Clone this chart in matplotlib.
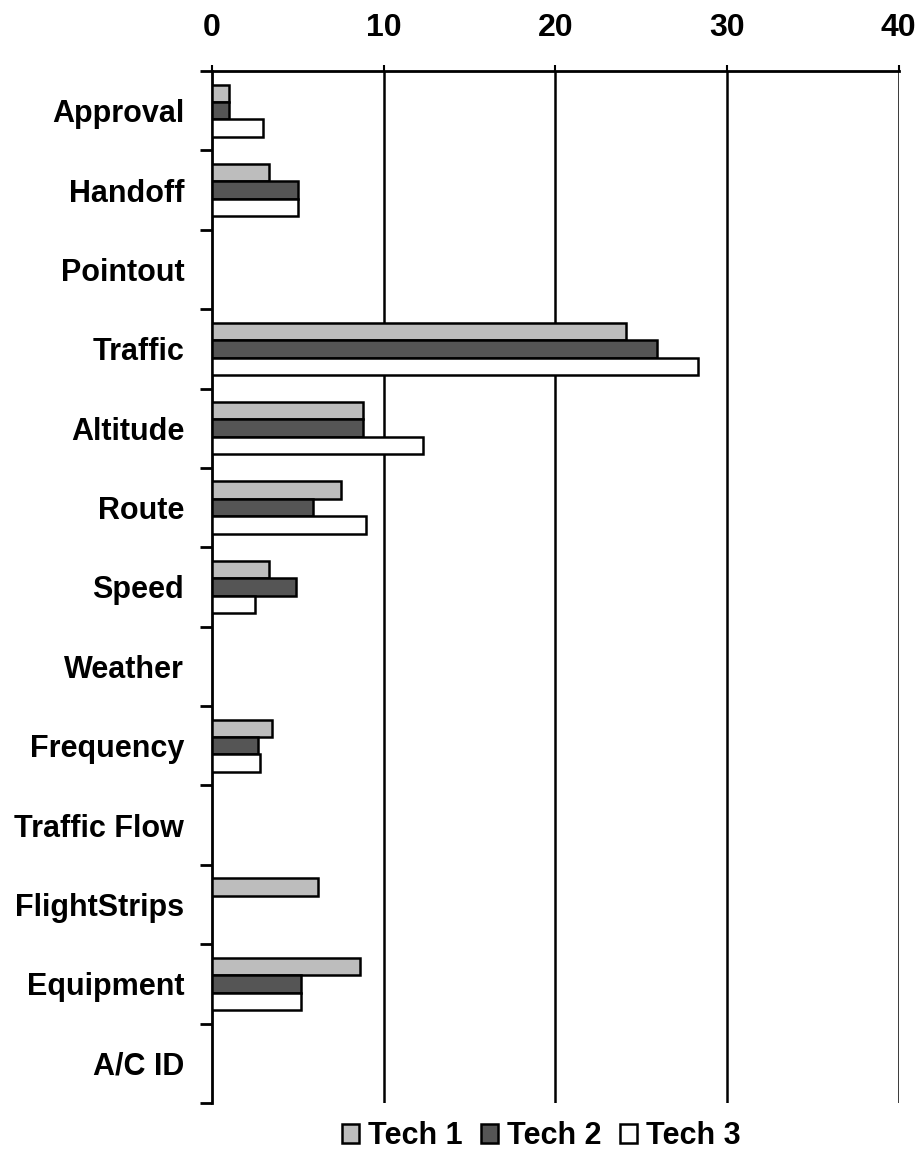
import numpy as np
import matplotlib
matplotlib.use('Agg')
from matplotlib import pyplot as plt

categories = ['Approval', 'Handoff', 'Pointout', 'Traffic', 'Altitude', 'Route', 'Speed',
              'Weather', 'Frequency', 'Traffic Flow', 'FlightStrips', 'Equipment', 'A/C ID']
tech1 = [1.0, 3.3, 0, 24.1, 8.8, 7.5, 3.3, 0, 3.5, 0, 6.2, 8.6, 0]
tech2 = [1.0, 5.0, 0, 25.9, 8.8, 5.9, 4.9, 0, 2.7, 0, 0, 5.2, 0]
tech3 = [3.0, 5.0, 0, 28.3, 12.3, 9.0, 2.5, 0, 2.8, 0, 0, 5.2, 0]
series = ['Tech 1', 'Tech 2', 'Tech 3']
xticks = [0, 10, 20, 30, 40]

plt.rcParams['font.family'] = ['Liberation Sans', 'DejaVu Sans']
plt.rcParams['font.weight'] = 'bold'

fig = plt.figure(figsize=(9.18, 11.68), dpi=100)
ax = fig.add_axes([0.2309, 0.0557, 0.979 - 0.2309, 0.9392 - 0.0557])

y = np.arange(len(categories))
h = 0.22
colors = ['#bdbdbd', '#555555', 'white']
for i, (vals, name) in enumerate(zip([tech1, tech2, tech3], series)):
    bars = ax.barh(y + (i - 1) * h, vals, height=h, color=colors[i], edgecolor='black',
                   linewidth=1.8, label=name, zorder=3)
    # hide empty bars so they don't leave an outline on the axis
    for b, v in zip(bars, vals):
        if v == 0:
            b.set_visible(False)

ax.set_xlim(0, 40)
ax.set_ylim(len(categories) - 0.5, -0.5)
ax.xaxis.tick_top()
ax.set_xticks(xticks)
ax.set_xticklabels([str(t) for t in xticks], fontsize=23, fontweight='bold')
ax.tick_params(axis='x', length=4, width=1.5, pad=16)
for t in xticks[1:]:
    ax.axvline(t, color='black', linewidth=1.8, zorder=2)

ax.set_yticks(np.arange(len(categories) + 1) - 0.5)
ax.set_yticklabels([])
ax.tick_params(axis='y', which='major', length=9, width=2)
ax.set_yticks(y, minor=True)
ax.set_yticklabels(categories, minor=True, fontsize=22, fontweight='bold')
ax.tick_params(axis='y', which='minor', length=0, pad=20)

ax.spines['right'].set_visible(False)
ax.spines['bottom'].set_visible(False)
ax.spines['top'].set_linewidth(2)
ax.spines['left'].set_linewidth(2)

fig.legend(loc='center', bbox_to_anchor=(0.59, 0.027), ncol=3, frameon=False,
           prop={'size': 22, 'weight': 'bold'}, handlelength=0.55, handleheight=0.55,
           handletextpad=0.3, columnspacing=0.6)

fig.savefig('out.png', dpi=100)
